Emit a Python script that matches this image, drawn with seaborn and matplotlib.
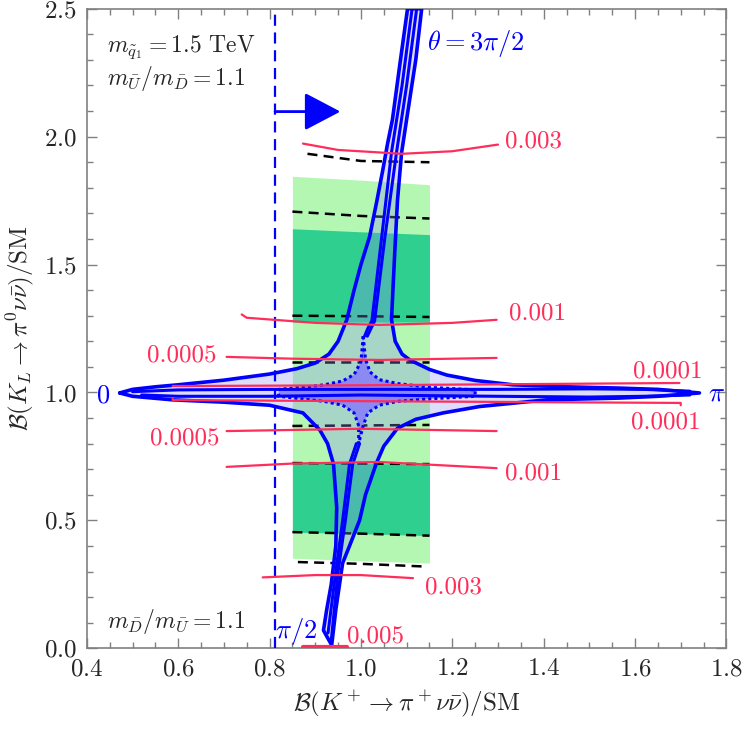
import numpy as np
import pandas as pd
import matplotlib
matplotlib.use('Agg')
import matplotlib.pyplot as plt
from matplotlib.ticker import MultipleLocator
import seaborn as sns

# --- data ---
# green bands (x edges and top/bottom edges)
band_x = [0.85, 1.0, 1.15]
light_top = [1.845, 1.83, 1.812]
light_bot = [0.352, 0.342, 0.333]
dark_up_top = [1.640, 1.628, 1.617]
dark_up_bot = [1.275, 1.275, 1.275]
dark_lo_top = [0.724, 0.722, 0.720]
dark_lo_bot = [0.454, 0.448, 0.440]

# black dashed contours
dash_x = [[0.883, 1.0, 1.15], [0.85, 1.0, 1.15], [0.85, 1.0, 1.15], [0.85, 1.0, 1.15],
          [0.85, 1.0, 1.15], [0.85, 1.0, 1.15], [0.85, 1.0, 1.15], [0.862, 1.0, 1.133]]
dash_y = [[1.933, 1.905, 1.900], [1.707, 1.690, 1.680], [1.300, 1.298, 1.295], [1.120, 1.120, 1.120],
          [0.869, 0.871, 0.873], [0.724, 0.722, 0.720], [0.454, 0.448, 0.440], [0.337, 0.330, 0.320]]

# red contours
red_x = [[0.873, 0.95, 1.09, 1.2, 1.30],
         [0.739, 0.75, 0.9, 1.04, 1.2, 1.297],
         [0.706, 0.85, 1.04, 1.297],
         [0.588, 1.0, 1.697],
         [0.588, 0.588, 1.0, 1.70, 1.70],
         [0.706, 1.0, 1.297],
         [0.706, 0.85, 1.04, 1.297],
         [0.785, 0.9, 1.0, 1.114],
         [0.873, 0.969]]
red_y = [[1.973, 1.948, 1.933, 1.943, 1.969],
         [1.305, 1.292, 1.272, 1.264, 1.272, 1.284],
         [1.139, 1.132, 1.127, 1.135],
         [1.025, 1.028, 1.037],
         [0.978, 0.970, 0.966, 0.959, 0.950],
         [0.849, 0.858, 0.849],
         [0.709, 0.722, 0.728, 0.704],
         [0.277, 0.286, 0.286, 0.274],
         [0.004, 0.004]]
red_labels = ['0.003', '0.001', '0.0005', '0.0001', '0.0001', '0.0005', '0.001', '0.003', '0.005']
red_lab_x = [1.315, 1.325, 0.684, 1.595, 1.592, 0.691, 1.315, 1.14, 0.969]
red_lab_y = [1.957, 1.284, 1.12, 1.06, 0.861, 0.795, 0.658, 0.215, 0.023]
red_lab_ha = ['left', 'left', 'right', 'left', 'left', 'right', 'left', 'left', 'left']

# blue outer contour (closed)
outer_x = [0.472, 0.50, 0.55, 0.60, 0.70, 0.80, 0.86, 0.90, 0.93, 0.95, 0.969, 0.985, 1.0, 1.019,
           1.035, 1.048, 1.058, 1.069, 1.085, 1.102,
           1.133, 1.12, 1.10, 1.089, 1.08, 1.074, 1.07, 1.067, 1.075, 1.09, 1.107, 1.15, 1.188,
           1.25, 1.332, 1.45, 1.566, 1.65, 1.741,
           1.65, 1.566, 1.406, 1.26, 1.18, 1.12, 1.08, 1.05, 1.034, 1.01, 0.997, 0.975, 0.96,
           0.945, 0.936,
           0.918, 0.925, 0.935, 0.945, 0.947, 0.94, 0.927, 0.91, 0.873, 0.80, 0.70, 0.588, 0.50, 0.472]
outer_y = [0.998, 1.012, 1.022, 1.030, 1.048, 1.072, 1.093, 1.115, 1.15, 1.20, 1.284, 1.40, 1.50, 1.609,
           1.75, 1.871, 1.97, 2.067, 2.28, 2.5,
           2.5, 2.3, 2.067, 1.937, 1.75, 1.546, 1.40, 1.284, 1.20, 1.15, 1.127, 1.09, 1.068,
           1.047, 1.030, 1.022, 1.017, 1.012, 0.998,
           0.985, 0.978, 0.971, 0.945, 0.92, 0.895, 0.86, 0.79, 0.724, 0.60, 0.50, 0.40, 0.333,
           0.15, 0.012,
           0.07, 0.15, 0.25, 0.40, 0.55, 0.72, 0.80, 0.853, 0.92, 0.95, 0.962, 0.971, 0.985, 0.998]

# inner blue lines (theta curves)
inner_x = [[1.008, 1.015, 1.024, 1.045, 1.067, 1.09, 1.112],
           [1.014, 1.022, 1.030, 1.052, 1.078, 1.10, 1.122],
           [0.99, 0.975, 0.96, 0.945, 0.928],
           [0.997, 0.982, 0.966, 0.95, 0.935],
           [0.50, 0.60, 0.80, 1.0, 1.3, 1.5, 1.62, 1.72],
           [0.52, 0.60, 0.80, 1.0, 1.3, 1.5, 1.62, 1.72]]
inner_y = [[1.22, 1.25, 1.28, 1.60, 1.94, 2.2, 2.5],
           [1.22, 1.25, 1.28, 1.60, 1.94, 2.2, 2.5],
           [0.80, 0.72, 0.50, 0.30, 0.06],
           [0.80, 0.72, 0.50, 0.30, 0.03],
           [1.003, 1.010, 1.012, 1.012, 1.012, 1.014, 1.012, 1.005],
           [0.990, 0.985, 0.985, 0.990, 0.985, 0.982, 0.985, 0.990]]

# central star region
star_x = [1.005, 1.0, 0.985, 0.96, 0.92, 0.87, 0.82, 0.82, 0.87, 0.92, 0.96, 0.985, 0.995, 0.995,
          1.005, 1.015, 1.04, 1.08, 1.15, 1.25, 1.25, 1.15, 1.08, 1.04, 1.02, 1.01, 1.005]
star_y = [1.22, 1.12, 1.07, 1.045, 1.03, 1.02, 1.012, 0.985, 0.975, 0.965, 0.95, 0.92, 0.87, 0.80,
          0.87, 0.92, 0.95, 0.965, 0.975, 0.985, 1.01, 1.02, 1.035, 1.05, 1.08, 1.13, 1.22]

kp_bound = 0.812
arrow_y = 2.098
arrow_tip = 0.955

red = '#ff2d5a'
blue = '#0000ff'

sns.set_theme(style='ticks')
plt.rcParams['font.family'] = 'serif'
plt.rcParams['font.serif'] = ['cmr10', 'DejaVu Serif']
plt.rcParams['mathtext.fontset'] = 'cm'
plt.rcParams['axes.formatter.use_mathtext'] = True

fig = plt.figure(figsize=(7.42, 7.30), dpi=100)
ax = fig.add_axes([0.117, 0.112, 0.862, 0.876])

# green bands
ax.fill_between(band_x, light_bot, light_top, color='#b3f7b3', lw=0, zorder=1)
ax.fill_between(band_x, dark_up_bot, dark_up_top, color='#2ecf8f', lw=0, zorder=1)
ax.fill_between(band_x, dark_lo_bot, dark_lo_top, color='#2ecf8f', lw=0, zorder=1)

for xs, ys in zip(dash_x, dash_y):
    sns.lineplot(x=xs, y=ys, ax=ax, color='black', lw=1.8, sort=False, estimator=None,
                 zorder=2).lines[-1].set_dashes([4, 2.5])

# blue regions
ax.fill(outer_x, outer_y, color=(0.55, 0.55, 0.95), alpha=0.3, lw=0, zorder=3)
ax.fill(star_x, star_y, color='#8a8af2', lw=0, zorder=3)
ax.plot(star_x, star_y, color=blue, lw=2.2, ls=(0, (1, 1)), zorder=4)
sns.lineplot(x=outer_x, y=outer_y, ax=ax, color=blue, lw=2.6, sort=False, estimator=None, zorder=5)
for xs, ys in zip(inner_x, inner_y):
    sns.lineplot(x=xs, y=ys, ax=ax, color=blue, lw=2.2, sort=False, estimator=None, zorder=5)

# red contours
for i, (xs, ys) in enumerate(zip(red_x, red_y)):
    sns.lineplot(x=xs, y=ys, ax=ax, color=red, lw=3 if i == len(red_x) - 1 else 1.6,
                 sort=False, estimator=None, zorder=6)
    ax.text(red_lab_x[i], red_lab_y[i], red_labels[i], color=red, fontsize=18,
            ha=red_lab_ha[i], va='baseline', zorder=7)

# K+ bound and arrow
ax.axvline(kp_bound, color=blue, lw=1.6, ls=(0, (5, 3)), zorder=4)
ax.annotate('', xy=(arrow_tip, arrow_y), xytext=(kp_bound, arrow_y),
            arrowprops=dict(arrowstyle='-|>,head_length=0.8,head_width=0.42', color=blue,
                            lw=2, mutation_scale=28, shrinkA=0, shrinkB=0), zorder=6)

# annotations
ax.text(0.444, 2.33, r'$m_{\tilde{q}_1}=1.5$ TeV', fontsize=17, va='baseline')
ax.text(0.444, 2.20, r'$m_{\bar{U}}/m_{\bar{D}}=1.1$', fontsize=17, va='baseline')
ax.text(0.444, 0.078, r'$m_{\bar{D}}/m_{\bar{U}}=1.1$', fontsize=17, va='baseline')
ax.text(1.144, 2.34, r'$\theta=3\pi/2$', fontsize=19, color=blue, va='baseline')
ax.text(0.422, 0.959, '0', fontsize=19, color=blue, va='baseline')
ax.text(1.759, 0.97, r'$\pi$', fontsize=19, color=blue, va='baseline')
ax.text(0.811, 0.039, r'$\pi/2$', fontsize=19, color=blue, va='baseline')

ax.set_xlim(0.4, 1.8)
ax.set_ylim(0, 2.5)
ax.xaxis.set_major_locator(MultipleLocator(0.2))
ax.xaxis.set_minor_locator(MultipleLocator(0.05))
ax.yaxis.set_major_locator(MultipleLocator(0.5))
ax.yaxis.set_minor_locator(MultipleLocator(0.1))
ax.tick_params(which='both', direction='in', top=True, right=True, color='#808080',
               labelsize=18, pad=7)
ax.tick_params(which='major', length=7, width=1)
ax.tick_params(which='minor', length=4, width=1)
for s in ax.spines.values():
    s.set_color('#808080')
    s.set_linewidth(1.2)
ax.set_xlabel(r'$\mathcal{B}(K^+\to\pi^+\nu\bar{\nu})/\mathrm{SM}$', fontsize=18, labelpad=6)
ax.set_ylabel(r'$\mathcal{B}(K_L\to\pi^0\nu\bar{\nu})/\mathrm{SM}$', fontsize=18, labelpad=6)

fig.savefig('out.png', dpi=100)
